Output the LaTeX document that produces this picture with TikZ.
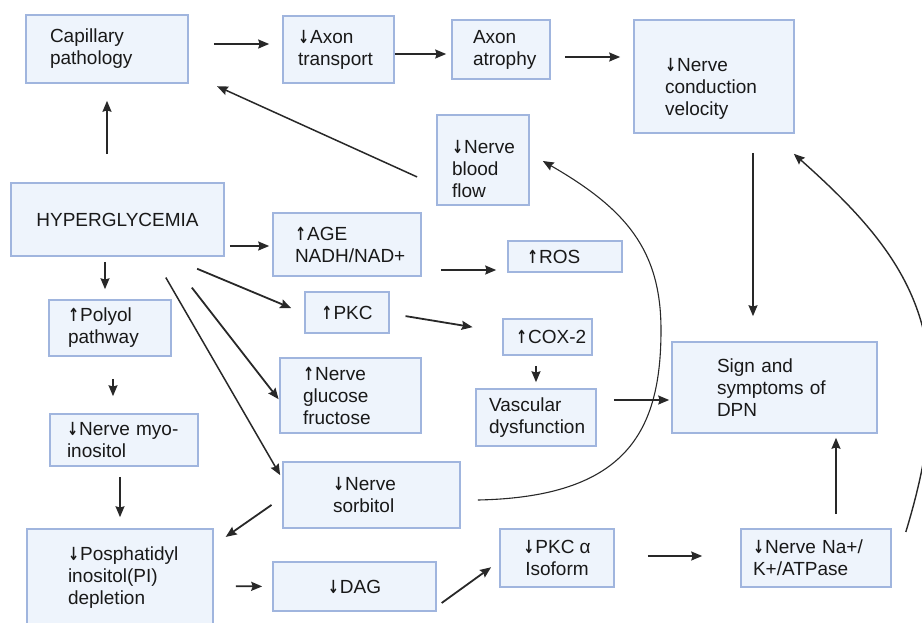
\documentclass[tikz,border=0pt]{standalone}
\usepackage{fontspec}
\usepackage{graphicx}
\setmainfont{Liberation Sans}
\newfontfamily\symfont{DejaVu Sans}
\usetikzlibrary{arrows.meta}
\definecolor{boxline}{RGB}{160,181,222}
\definecolor{boxfill}{RGB}{238,244,252}
\definecolor{inkcol}{RGB}{40,40,40}
\hyphenpenalty=10000
\exhyphenpenalty=10000
\newcommand\dn{{\symfont\bfseries\scalebox{0.7}[0.95]{↓}}\kern1pt}
\newcommand\up{{\symfont\bfseries\scalebox{0.7}[0.95]{↑}}\kern1pt}

\begin{document}
\begin{tikzpicture}[x=1pt, y=-1pt, ->, >={Stealth[length=11pt,width=9pt,inset=1.5pt]},
  box/.style={draw=boxline, fill=boxfill, line width=1.6pt, inner sep=0pt,
              text=black!90, font=\fontsize{19}{22}\selectfont},
  lbox/.style={box, align=left}]
  \clip (0,0) rectangle (922,622);

  \node[lbox, minimum width=162pt, minimum height=68pt, text width=114pt]  (cap) at (107,49)     {Capillary\\pathology};
  \node[lbox, minimum width=111pt, minimum height=67pt, text width=81pt]   (axt) at (338.5,49.5) {\dn Axon\\transport};
  \node[lbox, minimum width=98pt,  minimum height=59pt, text width=56pt]   (atr) at (501,49.5)   {Axon\\atrophy};
  \node[lbox, minimum width=160pt, minimum height=113pt, text width=98pt]  (ncv) at (714,76.5)   {\rule{0pt}{38pt}\dn Nerve\\conduction\\velocity};
  \node[lbox, minimum width=92pt,  minimum height=90pt, text width=62pt]   (nbf) at (483,160)    {\rule{0pt}{32pt}\dn Nerve\\blood\\flow};
  \node[box,  minimum width=213pt, minimum height=73pt, align=center]      (hyp) at (117.5,219.5) {HYPERGLYCEMIA};
  \node[lbox, minimum width=148pt, minimum height=63pt, text width=104pt]  (age) at (347,244.5)  {\up AGE\\NADH/NAD+};
  \node[box,  minimum width=84pt,  minimum height=41pt, align=center]      (pkc) at (347,312.5)  {\up PKC};
  \node[lbox, minimum width=122pt, minimum height=56pt, text width=84pt]   (pol) at (110,328)    {\up Polyol\\pathway};
  \node[lbox, minimum width=141pt, minimum height=75pt, text width=95pt]   (glu) at (350.5,395.5) {\up Nerve\\glucose\\fructose};
  \node[lbox, minimum width=148pt, minimum height=52pt, text width=114pt]  (myo) at (124,440)    {\dn Nerve myo-\\inositol};
  \node[lbox, minimum width=114pt, minimum height=31pt, text width=76pt]   (ros) at (565,256.5)  {\up ROS};
  \node[lbox, minimum width=89pt,  minimum height=36pt, text width=63pt]   (cox) at (547.5,337)  {\up COX-2};
  \node[lbox, minimum width=120pt, minimum height=57pt, text width=94pt]   (vas) at (536,417.5)  {Vascular\\dysfunction};
  \node[lbox, minimum width=205pt, minimum height=91pt, text width=115pt]  (dpn) at (774.5,387.5) {Sign and\\symptoms of\\DPN};
  \node[lbox, minimum width=177pt, minimum height=66pt, text width=77pt]   (sor) at (371.5,495)  {\dn Nerve\\sorbitol};
  \node[lbox, minimum width=186pt, minimum height=98pt, text width=104pt]  (pi)  at (120,578)    {\dn Posphatidyl\\inositol(PI)\\depletion};
  \node[box,  minimum width=163pt, minimum height=49pt, align=center]      (dag) at (354.5,586.5) {\dn DAG};
  \node[box,  minimum width=114pt, minimum height=58pt, align=center]      (pka) at (557,558)    {\dn PKC α\\Isoform};
  \node[lbox, minimum width=150pt, minimum height=58pt, text width=126pt]  (nak) at (816,558)    {\dn Nerve Na+/\\K+/ATPase};

  \path[color=inkcol, line width=1.8pt]
    ([shift={(0,-5)}]cap.east)     edge [shorten <=25pt, shorten >=13pt]  ([shift={(0,-5.5)}]axt.west)
    ([shift={(0,4.5)}]axt.east)    edge [shorten >=5pt]                   ([shift={(0,4.5)}]atr.west)
    ([shift={(0,7.5)}]atr.east)    edge [shorten <=14pt, shorten >=13pt]  ([shift={(0,-19.5)}]ncv.west)
    ([shift={(-10.5,0)}]hyp.north) edge [shorten <=28pt, shorten >=17pt]  (cap.south)
    ([shift={(0,25.6)}]nbf.west)   edge [line width=1.5pt, shorten <=21pt, shorten >=31pt] ([shift={(0,24.4)}]cap.east)
    ([shift={(0,26.5)}]hyp.east)   edge [shorten <=5pt, shorten >=3pt]    ([shift={(0,1.5)}]age.west)
    ([shift={(0,25.5)}]age.east)   edge [shorten <=19pt, shorten >=11pt]  ([shift={(0,13.5)}]ros.west)
    ([shift={(51,0)}]hyp.south)    edge [shorten <=31pt, shorten >=14pt]  ([shift={(0,1)}]pkc.west)
    ([shift={(0,1)}]pkc.east)      edge [shorten <=16pt, shorten >=30pt]  ([shift={(0,-5)}]cox.west)
    ([shift={(50.4,0)}]hyp.south)  edge [shorten <=39pt, shorten >=1pt]   ([shift={(0,4.5)}]glu.west)
    ([shift={(36.3,0)}]hyp.south)  edge [line width=1.5pt, shorten <=24pt, shorten >=4pt] ([shift={(0,-16.4)}]sor.west)
    ([shift={(-12.5,0)}]hyp.south) edge [shorten <=5pt, shorten >=10pt]   ([shift={(-5,0)}]pol.north)
    ([shift={(3,0)}]pol.south)     edge [shorten <=22pt, shorten >=17pt]  ([shift={(-11,0)}]myo.north)
    ([shift={(-4,0)}]myo.south)    edge [shorten <=10pt, shorten >=11pt]  (pi.north)
    ([shift={(0,2.5)}]sor.west)    edge [shorten <=13pt, shorten >=14.5pt] ([shift={(0,-32.8)}]pi.east)
    ([shift={(0,8)}]pi.east)       edge [shorten <=22pt, shorten >=10pt]  (dag.west)
    ([shift={(0,20)}]dag.east)     edge [shorten <=6pt, shorten >=10pt]   ([shift={(0,3.4)}]pka.west)
    ([shift={(0,-2)}]pka.east)     edge [shorten <=33pt, shorten >=38pt]  ([shift={(0,-2)}]nak.west)
    ([shift={(20,0)}]nak.north)    edge [shorten <=14pt, shorten >=4pt]   ([shift={(61.5,0)}]dpn.south)
    ([shift={(39,0)}]ncv.south)    edge [shorten <=19pt, shorten >=25pt]  ([shift={(-21.5,0)}]dpn.north)
    ([shift={(0,-17.5)}]vas.east)  edge [shorten <=17pt, shorten >=2pt]   ([shift={(0,12.5)}]dpn.west)
    ([shift={(-11.5,0)}]cox.south) edge [shorten <=10pt, shorten >=6pt]   (vas.north);

  \draw[color=inkcol, line width=1.1pt] ([shift={(17,5)}]sor.east)
    .. controls (626,497) and (661,432) .. (661,330)
    .. controls (661,250) and (626,209) .. ([shift={(13,1)}]nbf.east);
  \draw[color=inkcol, line width=1.4pt] ([shift={(14,-26)}]nak.east)
    .. controls (964.5,339.5) and (914.5,261) .. ([shift={(-1,20)}]ncv.south east);
\end{tikzpicture}
\end{document}
